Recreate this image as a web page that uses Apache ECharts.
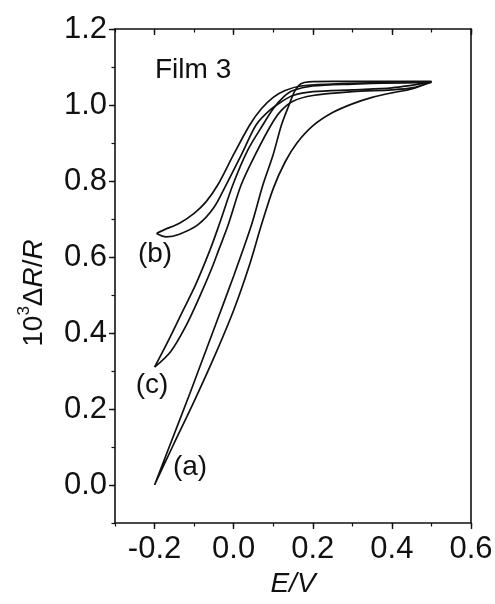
<!DOCTYPE html>
<html><head><meta charset="utf-8">
<script src="https://cdn.jsdelivr.net/npm/echarts@6/dist/echarts.min.js"></script>
<style>html,body{margin:0;padding:0;background:#fff}#c{width:495px;height:604px}</style>
</head><body><div id="c"></div>
<script>
// Loop (a): up the left branch, back down the right branch
const loopA = [[-0.2,0],[-0.163,0.1],[-0.111,0.24],[-0.086,0.31],[-0.05,0.41],[0,0.55],[0.045,0.684],[0.074,0.79],[0.1,0.87],[0.121,0.948],[0.14,1.0],[0.155,1.038],[0.17,1.056],[0.19,1.061],[0.25,1.062],[0.35,1.062],[0.45,1.062],[0.5,1.062],
  [0.45,1.042],[0.4,1.032],[0.35,1.02],[0.3,1.003],[0.25,0.98],[0.2,0.945],[0.16,0.9],[0.13,0.85],[0.1,0.78],[0.07,0.684],[0.04,0.579],[0,0.46],[-0.05,0.335],[-0.1,0.22],[-0.155,0.1],[-0.2,0]];
// Loop (b)
const loopB = [[-0.195,0.662],[-0.175,0.672],[-0.137,0.689],[-0.1,0.715],[-0.07,0.745],[-0.04,0.79],[0.0,0.87],[0.041,0.948],[0.07,0.99],[0.1,1.02],[0.13,1.038],[0.17,1.05],[0.25,1.055],[0.35,1.058],[0.5,1.06],
  [0.4,1.045],[0.3,1.04],[0.2,1.035],[0.15,1.025],[0.12,1.008],[0.09,0.985],[0.057,0.948],[0.02,0.87],[-0.019,0.79],[-0.05,0.73],[-0.09,0.685],[-0.137,0.66],[-0.17,0.653],[-0.195,0.662]];
// Loop (c)
const loopC = [[-0.2,0.31],[-0.17,0.37],[-0.13,0.455],[-0.095,0.53],[-0.06,0.618],[-0.037,0.684],[-0.002,0.79],[0.035,0.88],[0.074,0.948],[0.1,0.99],[0.125,1.02],[0.15,1.038],[0.2,1.05],[0.3,1.055],[0.4,1.058],[0.5,1.06],
  [0.45,1.045],[0.4,1.04],[0.3,1.035],[0.2,1.025],[0.15,1.01],[0.12,0.985],[0.095,0.948],[0.055,0.87],[0.019,0.79],[-0.014,0.684],[-0.038,0.618],[-0.052,0.579],[-0.08,0.51],[-0.12,0.42],[-0.16,0.35],[-0.2,0.31]];

const xTicks = [-0.2, 0.0, 0.2, 0.4, 0.6];
const xMinor = [-0.3,-0.2,-0.1,0,0.1,0.2,0.3,0.4,0.5,0.6];
const yTicks = [0.0, 0.2, 0.4, 0.6, 0.8, 1.0, 1.2];
const yMinor = [-0.1,0,0.1,0.2,0.3,0.4,0.5,0.6,0.7,0.8,0.9,1.0,1.1,1.2];
const labels = [{t:'(a)', x:190, y:467},{t:'(b)', x:155, y:254},{t:'(c)', x:152, y:385}];

const FONT = 'Liberation Sans, Arial, sans-serif';
const INK = '#111';
const chart = echarts.init(document.getElementById('c'), null, {renderer:'canvas'});
const baseX = {type:'value', min:-0.3, max:0.6, splitLine:{show:false}};
const baseY = {type:'value', min:-0.1, max:1.2, splitLine:{show:false}};
const noLine = {show:false, onZero:false};
chart.setOption({
  animation:false,
  grid:{left:115, right:24, top:29, bottom:81, containLabel:false, outerBoundsMode:'none'},
  xAxis:[
    Object.assign({}, baseX, {position:'bottom',
      axisLine:{show:true, onZero:false, lineStyle:{color:INK, width:1.6}},
      axisTick:{show:true, customValues:xTicks, length:6, lineStyle:{color:INK, width:1.4}},
      axisLabel:{customValues:xTicks, formatter:v=>v.toFixed(1), color:INK, fontSize:31, fontFamily:FONT, margin:11},
      name:'E/V', nameLocation:'middle', nameGap:47,
      nameTextStyle:{fontSize:28, fontFamily:FONT, color:INK, fontStyle:'italic'}}),
    Object.assign({}, baseX, {position:'bottom', axisLine:noLine,
      axisTick:{show:true, customValues:xMinor, length:3.5, lineStyle:{color:INK, width:1.2}},
      axisLabel:{show:false}}),
    Object.assign({}, baseX, {position:'top',
      axisLine:{show:true, onZero:false, lineStyle:{color:INK, width:1.6}},
      axisTick:{show:true, inside:true, customValues:xTicks, length:6, lineStyle:{color:INK, width:1.4}},
      axisLabel:{show:false}}),
    Object.assign({}, baseX, {position:'top', axisLine:noLine,
      axisTick:{show:true, inside:true, customValues:xMinor, length:3.5, lineStyle:{color:INK, width:1.2}},
      axisLabel:{show:false}})
  ],
  yAxis:[
    Object.assign({}, baseY, {position:'left',
      axisLine:{show:true, onZero:false, lineStyle:{color:INK, width:1.6}},
      axisTick:{show:true, customValues:yTicks, length:6, lineStyle:{color:INK, width:1.4}},
      axisLabel:{customValues:yTicks, formatter:v=>v.toFixed(1), color:INK, fontSize:31, fontFamily:FONT, margin:8}}),
    Object.assign({}, baseY, {position:'left', axisLine:noLine,
      axisTick:{show:true, customValues:yMinor, length:3.5, lineStyle:{color:INK, width:1.2}},
      axisLabel:{show:false}}),
    Object.assign({}, baseY, {position:'right',
      axisLine:{show:true, onZero:false, lineStyle:{color:INK, width:1.6}},
      axisTick:{show:false}, axisLabel:{show:false}})
  ],
  series:[
    {name:'(a)', type:'line', data:loopA, showSymbol:false, smooth:0.3, lineStyle:{color:INK, width:1.7}},
    {name:'(b)', type:'line', data:loopB, showSymbol:false, smooth:0.3, lineStyle:{color:INK, width:1.7}},
    {name:'(c)', type:'line', data:loopC, showSymbol:false, smooth:0.3, lineStyle:{color:INK, width:1.7}}
  ],
  graphic:[
    {type:'text', left:155, top:56, style:{text:'Film 3', fontSize:28, fontFamily:FONT, fill:INK}},
    ...labels.map(l=>({type:'text', x:l.x, y:l.y, style:{text:l.t, fontSize:28, fontFamily:FONT, fill:INK, align:'center', verticalAlign:'middle'}})),
    {type:'text', x:32, y:293, rotation:Math.PI/2,
      style:{text:'{n|10}{s|3}{n|Δ}{i|R}{n|/}{i|R}', align:'center', verticalAlign:'middle', fill:INK,
        rich:{n:{fontSize:28, fontFamily:FONT, fill:INK, lineHeight:32, verticalAlign:'bottom'},
              i:{fontSize:28, fontFamily:FONT, fill:INK, fontStyle:'italic', lineHeight:32, verticalAlign:'bottom'},
              s:{fontSize:17, fontFamily:FONT, fill:INK, lineHeight:32, verticalAlign:'top'}}}}
  ]
});
</script></body></html>
